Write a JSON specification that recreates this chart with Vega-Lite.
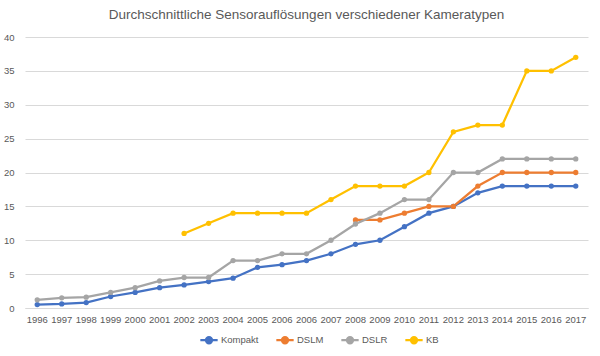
{
  "$schema": "https://vega.github.io/schema/vega-lite/v6.json",
  "width": 563,
  "height": 271,
  "autosize": {"type": "none"},
  "padding": {"left": 25, "top": 37, "right": 12, "bottom": 48},
  "background": "white",
  "title": {
    "text": "Durchschnittliche Sensorauflösungen verschiedener Kameratypen",
    "font": "Liberation Sans",
    "fontSize": 13.5,
    "fontWeight": "normal",
    "color": "#595959",
    "anchor": "middle",
    "offset": 11
  },
  "config": {
    "view": {"stroke": null},
    "axis": {"labelFont": "Liberation Sans", "labelColor": "#595959", "labelFontSize": 9.5}
  },
  "data": {
    "values": [
      {"Jahr": "1996", "Typ": "Kompakt", "Wert": 0.5},
      {"Jahr": "1997", "Typ": "Kompakt", "Wert": 0.6},
      {"Jahr": "1998", "Typ": "Kompakt", "Wert": 0.8},
      {"Jahr": "1999", "Typ": "Kompakt", "Wert": 1.7},
      {"Jahr": "2000", "Typ": "Kompakt", "Wert": 2.3},
      {"Jahr": "2001", "Typ": "Kompakt", "Wert": 3.0},
      {"Jahr": "2002", "Typ": "Kompakt", "Wert": 3.4},
      {"Jahr": "2003", "Typ": "Kompakt", "Wert": 3.9},
      {"Jahr": "2004", "Typ": "Kompakt", "Wert": 4.4},
      {"Jahr": "2005", "Typ": "Kompakt", "Wert": 6.0},
      {"Jahr": "2006", "Typ": "Kompakt", "Wert": 6.4},
      {"Jahr": "2006\u200b", "Typ": "Kompakt", "Wert": 7.0},
      {"Jahr": "2007", "Typ": "Kompakt", "Wert": 8.0},
      {"Jahr": "2008", "Typ": "Kompakt", "Wert": 9.4},
      {"Jahr": "2009", "Typ": "Kompakt", "Wert": 10.0},
      {"Jahr": "2010", "Typ": "Kompakt", "Wert": 12.0},
      {"Jahr": "2011", "Typ": "Kompakt", "Wert": 14.0},
      {"Jahr": "2012", "Typ": "Kompakt", "Wert": 15.0},
      {"Jahr": "2013", "Typ": "Kompakt", "Wert": 17.0},
      {"Jahr": "2014", "Typ": "Kompakt", "Wert": 18.0},
      {"Jahr": "2015", "Typ": "Kompakt", "Wert": 18.0},
      {"Jahr": "2016", "Typ": "Kompakt", "Wert": 18.0},
      {"Jahr": "2017", "Typ": "Kompakt", "Wert": 18.0},
      {"Jahr": "2008", "Typ": "DSLM", "Wert": 13.0},
      {"Jahr": "2009", "Typ": "DSLM", "Wert": 13.0},
      {"Jahr": "2010", "Typ": "DSLM", "Wert": 14.0},
      {"Jahr": "2011", "Typ": "DSLM", "Wert": 15.0},
      {"Jahr": "2012", "Typ": "DSLM", "Wert": 15.0},
      {"Jahr": "2013", "Typ": "DSLM", "Wert": 18.0},
      {"Jahr": "2014", "Typ": "DSLM", "Wert": 20.0},
      {"Jahr": "2015", "Typ": "DSLM", "Wert": 20.0},
      {"Jahr": "2016", "Typ": "DSLM", "Wert": 20.0},
      {"Jahr": "2017", "Typ": "DSLM", "Wert": 20.0},
      {"Jahr": "1996", "Typ": "DSLR", "Wert": 1.2},
      {"Jahr": "1997", "Typ": "DSLR", "Wert": 1.5},
      {"Jahr": "1998", "Typ": "DSLR", "Wert": 1.6},
      {"Jahr": "1999", "Typ": "DSLR", "Wert": 2.3},
      {"Jahr": "2000", "Typ": "DSLR", "Wert": 3.0},
      {"Jahr": "2001", "Typ": "DSLR", "Wert": 4.0},
      {"Jahr": "2002", "Typ": "DSLR", "Wert": 4.5},
      {"Jahr": "2003", "Typ": "DSLR", "Wert": 4.5},
      {"Jahr": "2004", "Typ": "DSLR", "Wert": 7.0},
      {"Jahr": "2005", "Typ": "DSLR", "Wert": 7.0},
      {"Jahr": "2006", "Typ": "DSLR", "Wert": 8.0},
      {"Jahr": "2006\u200b", "Typ": "DSLR", "Wert": 8.0},
      {"Jahr": "2007", "Typ": "DSLR", "Wert": 10.0},
      {"Jahr": "2008", "Typ": "DSLR", "Wert": 12.4},
      {"Jahr": "2009", "Typ": "DSLR", "Wert": 14.0},
      {"Jahr": "2010", "Typ": "DSLR", "Wert": 16.0},
      {"Jahr": "2011", "Typ": "DSLR", "Wert": 16.0},
      {"Jahr": "2012", "Typ": "DSLR", "Wert": 20.0},
      {"Jahr": "2013", "Typ": "DSLR", "Wert": 20.0},
      {"Jahr": "2014", "Typ": "DSLR", "Wert": 22.0},
      {"Jahr": "2015", "Typ": "DSLR", "Wert": 22.0},
      {"Jahr": "2016", "Typ": "DSLR", "Wert": 22.0},
      {"Jahr": "2017", "Typ": "DSLR", "Wert": 22.0},
      {"Jahr": "2002", "Typ": "KB", "Wert": 11.0},
      {"Jahr": "2003", "Typ": "KB", "Wert": 12.5},
      {"Jahr": "2004", "Typ": "KB", "Wert": 14.0},
      {"Jahr": "2005", "Typ": "KB", "Wert": 14.0},
      {"Jahr": "2006", "Typ": "KB", "Wert": 14.0},
      {"Jahr": "2006\u200b", "Typ": "KB", "Wert": 14.0},
      {"Jahr": "2007", "Typ": "KB", "Wert": 16.0},
      {"Jahr": "2008", "Typ": "KB", "Wert": 18.0},
      {"Jahr": "2009", "Typ": "KB", "Wert": 18.0},
      {"Jahr": "2010", "Typ": "KB", "Wert": 18.0},
      {"Jahr": "2011", "Typ": "KB", "Wert": 20.0},
      {"Jahr": "2012", "Typ": "KB", "Wert": 26.0},
      {"Jahr": "2013", "Typ": "KB", "Wert": 27.0},
      {"Jahr": "2014", "Typ": "KB", "Wert": 27.0},
      {"Jahr": "2015", "Typ": "KB", "Wert": 35.0},
      {"Jahr": "2016", "Typ": "KB", "Wert": 35.0},
      {"Jahr": "2017", "Typ": "KB", "Wert": 37.0}
    ]
  },
  "mark": {
    "type": "line",
    "strokeWidth": 2.25,
    "point": {"filled": true, "size": 28}
  },
  "encoding": {
    "x": {
      "field": "Jahr",
      "type": "ordinal",
      "scale": {"type": "band", "paddingInner": 0, "paddingOuter": 0},
      "axis": {
        "title": null,
        "labelAngle": 0,
        "ticks": false,
        "domainColor": "#D9D9D9",
        "labelPadding": 6
      }
    },
    "y": {
      "field": "Wert",
      "type": "quantitative",
      "scale": {"domain": [0, 40], "nice": false},
      "axis": {
        "title": null,
        "values": [0, 5, 10, 15, 20, 25, 30, 35, 40],
        "domain": false,
        "ticks": false,
        "gridColor": "#D9D9D9",
        "labelPadding": 11
      }
    },
    "color": {
      "field": "Typ",
      "type": "nominal",
      "scale": {
        "domain": ["Kompakt", "DSLM", "DSLR", "KB"],
        "range": ["#4472C4", "#ED7D31", "#A5A5A5", "#FFC000"]
      },
      "legend": {
        "title": null,
        "orient": "none",
        "direction": "horizontal",
        "legendX": 174,
        "legendY": 293,
        "labelFont": "Liberation Sans",
        "labelFontSize": 9.5,
        "labelColor": "#595959",
        "symbolType": "M-1,0H1M-0.35,0A0.35,0.35 0 1,1 0.35,0A0.35,0.35 0 1,1 -0.35,0Z",
        "symbolSize": 300,
        "symbolStrokeWidth": 2.25,
        "columnPadding": 12,
        "labelOffset": 2
      }
    }
  }
}
